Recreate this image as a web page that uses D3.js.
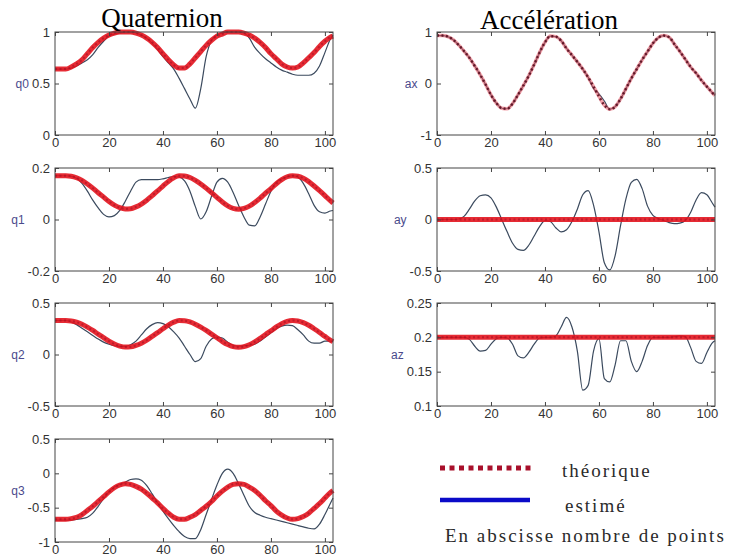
<!DOCTYPE html>
<html>
<head>
<meta charset="utf-8">
<script src="https://cdn.jsdelivr.net/npm/d3@7/dist/d3.min.js"></script>
<style>
body { margin: 0; background: #fff; }
svg { display: block; }
.tick text { font-family: "Liberation Sans", Arial, sans-serif; font-size: 13px; fill: #333; }
.tick line { stroke: #444; }
.ylab { font-family: "Liberation Sans", Arial, sans-serif; font-size: 12px; fill: #4a4a8c; }
.title { font-family: "Liberation Serif", "Times New Roman", serif; font-size: 27px; fill: #000; }
.leg { font-family: "Liberation Serif", "Times New Roman", serif; font-size: 19px; letter-spacing: 2px; fill: #2a2a2a; }
</style>
</head>
<body>
<script>
// x positions (number of points)
var xs = [0,2,4,6,8,10,12,14,16,18,20,22,24,26,28,30,32,34,36,38,40,42,44,46,48,50,
          52,54,56,58,60,62,64,66,68,70,72,74,76,78,80,82,84,86,88,90,92,94,96,98,100,102,103];
var xFlat = [0, 103];
var xTicks = [0, 20, 40, 60, 80, 100];

// quaternion, theoretical / estimated
var q0Theo = [0.64,0.64,0.64,0.66,0.69,0.73,0.79,0.85,0.90,0.94,
              0.97,0.99,1.0,1.0,1.0,0.99,0.97,0.94,0.90,0.85,
              0.79,0.73,0.68,0.65,0.65,0.69,0.75,0.81,0.87,0.92,
              0.96,0.98,1.0,1.0,1.0,0.99,0.97,0.94,0.90,0.85,
              0.79,0.74,0.69,0.66,0.65,0.66,0.70,0.75,0.80,0.86,
              0.91,0.95,0.96];
var q0Est = [0.64,0.64,0.64,0.65,0.67,0.70,0.73,0.78,0.85,0.91,
             0.96,0.98,0.99,1.0,1.0,0.99,0.97,0.94,0.89,0.83,
             0.76,0.70,0.64,0.55,0.45,0.35,0.26,0.45,0.76,0.92,
             0.97,0.99,1.0,1.0,1.0,0.99,0.94,0.85,0.79,0.74,
             0.70,0.66,0.63,0.61,0.59,0.58,0.58,0.58,0.60,0.67,
             0.80,0.93,0.97];
var q1Theo = [0.17,0.17,0.17,0.168,0.162,0.152,0.138,0.122,0.104,0.087,
              0.07,0.056,0.046,0.041,0.042,0.049,0.06,0.075,0.093,0.111,
              0.13,0.148,0.162,0.17,0.169,0.163,0.152,0.138,0.122,0.104,
              0.086,0.068,0.053,0.043,0.04,0.043,0.052,0.066,0.083,0.102,
              0.12,0.139,0.155,0.166,0.17,0.168,0.16,0.147,0.13,0.112,
              0.093,0.073,0.064];
var q1Est = [0.17,0.17,0.17,0.168,0.16,0.14,0.11,0.075,0.045,0.02,
             0.01,0.015,0.035,0.07,0.11,0.145,0.155,0.155,0.155,0.155,
             0.158,0.163,0.167,0.165,0.15,0.11,0.05,0.002,0.03,0.09,
             0.145,0.16,0.145,0.105,0.055,0.01,-0.022,-0.025,0.01,0.06,
             0.11,0.145,0.158,0.166,0.17,0.165,0.14,0.10,0.055,0.03,
             0.025,0.033,0.035];
var q2Theo = [0.33,0.33,0.33,0.326,0.314,0.294,0.266,0.234,0.198,0.164,
              0.13,0.102,0.082,0.072,0.074,0.088,0.11,0.14,0.176,0.212,
              0.25,0.286,0.314,0.33,0.328,0.316,0.294,0.266,0.234,0.198,
              0.162,0.126,0.096,0.076,0.07,0.076,0.094,0.122,0.156,0.194,
              0.23,0.268,0.30,0.322,0.33,0.326,0.31,0.284,0.25,0.214,
              0.176,0.14,0.125];
var q2Est = [0.33,0.33,0.33,0.315,0.29,0.255,0.22,0.185,0.15,0.12,
             0.10,0.085,0.078,0.078,0.095,0.13,0.19,0.25,0.29,0.31,
             0.30,0.27,0.22,0.16,0.08,0.0,-0.07,-0.04,0.08,0.15,
             0.17,0.16,0.12,0.09,0.08,0.085,0.09,0.10,0.13,0.17,
             0.21,0.25,0.275,0.285,0.28,0.24,0.19,0.13,0.11,0.11,
             0.13,0.13,0.13];
var q3Theo = [-0.67,-0.67,-0.67,-0.66,-0.64,-0.60,-0.54,-0.48,-0.41,-0.34,
              -0.27,-0.21,-0.17,-0.15,-0.16,-0.19,-0.23,-0.29,-0.36,-0.43,
              -0.51,-0.58,-0.64,-0.67,-0.67,-0.64,-0.60,-0.54,-0.48,-0.41,
              -0.33,-0.26,-0.20,-0.16,-0.15,-0.16,-0.20,-0.25,-0.32,-0.40,
              -0.47,-0.55,-0.61,-0.65,-0.67,-0.66,-0.63,-0.58,-0.51,-0.44,
              -0.36,-0.28,-0.25];
var q3Est = [-0.68,-0.68,-0.68,-0.68,-0.67,-0.66,-0.64,-0.58,-0.48,-0.37,
             -0.27,-0.20,-0.16,-0.13,-0.09,-0.08,-0.10,-0.18,-0.30,-0.43,
             -0.55,-0.66,-0.76,-0.85,-0.92,-0.95,-0.95,-0.82,-0.60,-0.38,
             -0.17,0.0,0.06,0.0,-0.15,-0.32,-0.48,-0.57,-0.61,-0.64,
             -0.66,-0.68,-0.70,-0.72,-0.74,-0.76,-0.78,-0.80,-0.81,-0.74,
             -0.60,-0.44,-0.36];

// acceleration, theoretical / estimated
var axTheo = [0.93,0.93,0.91,0.85,0.75,0.63,0.50,0.34,0.17,-0.02,
              -0.22,-0.38,-0.48,-0.49,-0.39,-0.22,-0.04,0.15,0.37,0.60,
              0.80,0.92,0.91,0.83,0.68,0.55,0.42,0.28,0.12,-0.06,
              -0.25,-0.42,-0.50,-0.45,-0.30,-0.10,0.10,0.28,0.46,0.62,
              0.78,0.89,0.93,0.90,0.76,0.62,0.47,0.32,0.20,0.06,
              -0.06,-0.18,-0.23];
var axEst = [0.93,0.93,0.91,0.85,0.75,0.63,0.50,0.34,0.17,-0.02,
             -0.22,-0.38,-0.48,-0.49,-0.39,-0.22,-0.04,0.15,0.37,0.60,
             0.80,0.92,0.91,0.83,0.68,0.55,0.42,0.28,0.12,-0.10,
             -0.20,-0.34,-0.50,-0.45,-0.30,-0.10,0.10,0.28,0.46,0.62,
             0.78,0.89,0.93,0.90,0.76,0.62,0.47,0.32,0.20,0.06,
             -0.06,-0.18,-0.23];
var ayTheo = [0, 0];
var ayEst = [0,0,0,0,0.005,0.03,0.10,0.18,0.23,0.24,
             0.21,0.12,0.0,-0.12,-0.23,-0.29,-0.30,-0.25,-0.16,-0.07,
             -0.01,-0.02,-0.08,-0.12,-0.10,-0.02,0.10,0.24,0.28,0.14,
             -0.12,-0.42,-0.49,-0.35,-0.06,0.20,0.36,0.39,0.30,0.13,
             0.04,0.01,-0.01,-0.03,-0.04,-0.035,-0.01,0.07,0.19,0.26,
             0.24,0.16,0.12];
var azTheo = [0.2, 0.2];
var azEst = [0.2,0.2,0.2,0.2,0.2,0.2,0.197,0.187,0.18,0.181,
             0.19,0.198,0.2,0.199,0.19,0.173,0.17,0.178,0.19,0.199,
             0.2,0.2,0.202,0.215,0.229,0.215,0.18,0.123,0.13,0.18,
             0.198,0.14,0.135,0.16,0.195,0.195,0.165,0.15,0.165,0.188,
             0.2,0.2,0.2,0.2,0.201,0.202,0.201,0.185,0.165,0.162,
             0.178,0.192,0.195];

// y ticks per panel
var q0Ticks = [0, 0.5, 1];
var q1Ticks = [-0.2, 0, 0.2];
var q2Ticks = [-0.5, 0, 0.5];
var q3Ticks = [-1, -0.5, 0, 0.5];
var axTicks = [-1, 0, 1];
var ayTicks = [-0.5, 0, 0.5];
var azTicks = [0.1, 0.15, 0.2, 0.25];

var width = 729, height = 556;
var colX = [55, 437], plotW = 278;
var rowY = [32, 168, 303, 439], plotH = 103;

var panels = [
  {label: "q0", col: 0, row: 0, dom: [0, 1],      ticks: q0Ticks, tx: xs,    theo: q0Theo, est: q0Est},
  {label: "q1", col: 0, row: 1, dom: [-0.2, 0.2], ticks: q1Ticks, tx: xs,    theo: q1Theo, est: q1Est},
  {label: "q2", col: 0, row: 2, dom: [-0.5, 0.5], ticks: q2Ticks, tx: xs,    theo: q2Theo, est: q2Est},
  {label: "q3", col: 0, row: 3, dom: [-1, 0.5],   ticks: q3Ticks, tx: xs,    theo: q3Theo, est: q3Est},
  {label: "ax", col: 1, row: 0, dom: [-1, 1],     ticks: axTicks, tx: xs,    theo: axTheo, est: axEst, thin: true},
  {label: "ay", col: 1, row: 1, dom: [-0.5, 0.5], ticks: ayTicks, tx: xFlat, theo: ayTheo, est: ayEst},
  {label: "az", col: 1, row: 2, dom: [0.1, 0.25], ticks: azTicks, tx: xFlat, theo: azTheo, est: azEst}
];

var svg = d3.select("body").append("svg")
  .attr("width", width)
  .attr("height", height);

svg.append("rect").attr("width", width).attr("height", height).attr("fill", "#fff");

var x = d3.scaleLinear().domain([0, 103]).range([0, plotW]);

panels.forEach(function(p) {
  var g = svg.append("g")
    .attr("transform", "translate(" + colX[p.col] + "," + rowY[p.row] + ")");
  var y = d3.scaleLinear().domain(p.dom).range([plotH, 0]);

  var line = function(xv) {
    return d3.line()
      .x(function(d, i) { return x(xv[i]); })
      .y(function(d) { return y(d); })
      .curve(d3.curveMonotoneX);
  };

  // estimated
  g.append("path").datum(p.est)
    .attr("d", line(xs))
    .attr("fill", "none")
    .attr("stroke", "#3b4a5e")
    .attr("stroke-width", 1.2);

  // theoretical: red markers
  g.append("path").datum(p.theo)
    .attr("d", line(p.tx))
    .attr("fill", "none")
    .attr("stroke", p.thin ? "#e85565" : "#e3141e")
    .attr("stroke-opacity", p.thin ? 0.55 : 0.9)
    .attr("stroke-width", p.thin ? 3.5 : 5);
  g.append("path").datum(p.theo)
    .attr("d", line(p.tx))
    .attr("fill", "none")
    .attr("stroke", p.thin ? "#5a1020" : "#9e0c22")
    .attr("stroke-opacity", p.thin ? 0.9 : 0.55)
    .attr("stroke-width", p.thin ? 2.5 : 2)
    .attr("stroke-dasharray", "2,2.5");

  // axes, MATLAB box style with inner ticks
  g.append("g")
    .attr("transform", "translate(0," + plotH + ")")
    .call(d3.axisBottom(x).tickValues(xTicks).tickSize(-4).tickPadding(3).tickFormat(function(d) { return d; }));
  g.append("g")
    .call(d3.axisTop(x).tickValues(xTicks).tickSize(-4).tickFormat(""));
  var ya = g.append("g")
    .call(d3.axisLeft(y).tickValues(p.ticks).tickSize(-4).tickPadding(5).tickFormat(function(d) { return String(d); }));
  g.append("g")
    .attr("transform", "translate(" + plotW + ",0)")
    .call(d3.axisRight(y).tickValues(p.ticks).tickSize(-4).tickFormat(""));
  g.selectAll(".domain").remove();

  g.append("rect")
    .attr("width", plotW)
    .attr("height", plotH)
    .attr("fill", "none")
    .attr("stroke", "#444")
    .attr("stroke-width", 1);

  var bb = ya.node().getBBox();
  g.append("text")
    .attr("class", "ylab")
    .attr("x", bb.x - 3)
    .attr("y", plotH / 2)
    .attr("dy", "0.35em")
    .attr("text-anchor", "end")
    .text(p.label);
});

// column titles
svg.append("text").attr("class", "title").attr("x", 162).attr("y", 27).attr("text-anchor", "middle").text("Quaternion");
svg.append("text").attr("class", "title").attr("x", 549).attr("y", 29).attr("text-anchor", "middle").text("Accélération");

// legend
svg.append("line")
  .attr("x1", 440).attr("x2", 532).attr("y1", 468).attr("y2", 468)
  .attr("stroke", "#a8102a").attr("stroke-width", 5).attr("stroke-dasharray", "5,4.5");
svg.append("line")
  .attr("x1", 440).attr("x2", 530).attr("y1", 500).attr("y2", 500)
  .attr("stroke", "#0a0ac8").attr("stroke-width", 4.5);
svg.append("text").attr("class", "leg").attr("x", 562).attr("y", 477).text("théorique");
svg.append("text").attr("class", "leg").attr("x", 565).attr("y", 512).text("estimé");
svg.append("text").attr("class", "leg").attr("x", 445).attr("y", 542).text("En abscisse nombre de points");
</script>
</body>
</html>
